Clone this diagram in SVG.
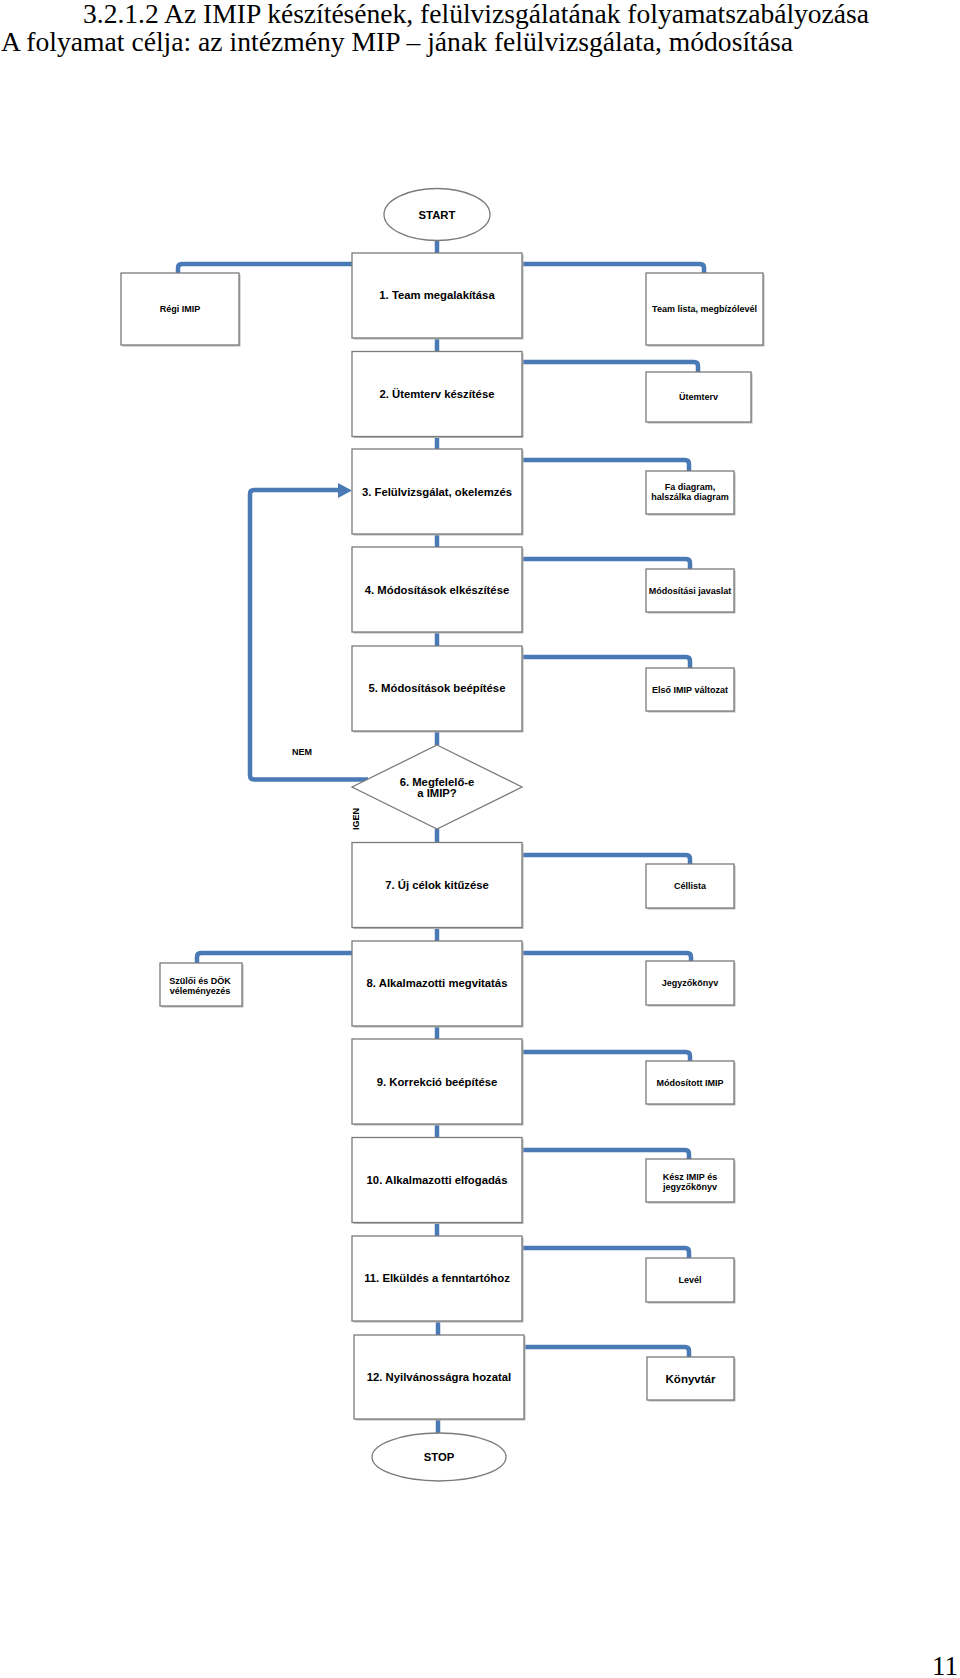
<svg xmlns="http://www.w3.org/2000/svg" width="960" height="1678" viewBox="0 0 960 1678">
<style>
.bg{fill:#ffffff}
.title{font-family:"Liberation Serif","Times New Roman",serif;font-size:27px;fill:#000}
.box{fill:#ffffff;stroke:#7b7b7b;stroke-width:1.3}
.shadow{fill:#b8b8b8}
.lbl{font-family:"Liberation Sans",Arial,sans-serif;font-weight:bold;font-size:11.3px;fill:#000;text-anchor:middle}
.sm{font-family:"Liberation Sans",Arial,sans-serif;font-weight:bold;font-size:9px;fill:#000;text-anchor:middle}
.conn{fill:none;stroke:#4a7ab5;stroke-width:4.5;stroke-linejoin:round}
.arrow{fill:#4a7ab5}
</style>
<rect class="bg" x="0" y="0" width="960" height="1678"/>
<g id="title">
<text class="title" x="83" y="23" textLength="786" lengthAdjust="spacingAndGlyphs">3.2.1.2 Az IMIP készítésének, felülvizsgálatának folyamatszabályozása</text>
<text class="title" x="1" y="51" textLength="792" lengthAdjust="spacingAndGlyphs">A folyamat célja: az intézmény MIP – jának felülvizsgálata, módosítása</text>
</g>
<g id="connectors">
<path class="conn" d="M437 240 V253"/>
<path class="conn" d="M352 264 H182 Q178 264 178 268 V273"/>
<path class="conn" d="M522 264 H700 Q704 264 704 268 V273"/>
<path class="conn" d="M437 338 V351.5"/>
<path class="conn" d="M522 362 H694 Q698 362 698 366 V372"/>
<path class="conn" d="M437 436.5 V449"/>
<path class="conn" d="M522 460 H685 Q689 460 689 464 V471"/>
<path class="conn" d="M437 534 V547"/>
<path class="conn" d="M522 559 H686 Q690 559 690 563 V569"/>
<path class="conn" d="M437 632 V646"/>
<path class="conn" d="M522 657 H686 Q690 657 690 661 V668"/>
<path class="conn" d="M437 731 V745"/>
<path class="conn" d="M368 779.5 H254 Q250 779.5 250 775.5 V494 Q250 490 254 490 H341"/>
<polygon class="arrow" points="338,483 352,490.5 338,498"/>
<path class="conn" d="M437 829 V842.5"/>
<path class="conn" d="M522 855 H686 Q690 855 690 859 V864"/>
<path class="conn" d="M437 927.5 V941"/>
<path class="conn" d="M352 953 H201 Q197 953 197 957 V963"/>
<path class="conn" d="M522 953 H687 Q691 953 691 957 V961"/>
<path class="conn" d="M437 1026 V1039"/>
<path class="conn" d="M522 1052 H686 Q690 1052 690 1056 V1061"/>
<path class="conn" d="M437 1124 V1137.5"/>
<path class="conn" d="M522 1150 H685 Q689 1150 689 1154 V1159"/>
<path class="conn" d="M437 1222 V1236"/>
<path class="conn" d="M522 1248 H685 Q689 1248 689 1252 V1258"/>
<path class="conn" d="M438 1321 V1335"/>
<path class="conn" d="M525 1347 H685 Q689 1347 689 1351 V1357"/>
<path class="conn" d="M438 1419 V1433"/>
</g>
<g id="start">
<ellipse class="box" cx="437" cy="214.5" rx="53" ry="26"/>
<text class="lbl" x="437" y="219">START</text>
</g>
<g id="n1">
<rect class="shadow" x="353.5" y="254.5" width="170" height="85"/>
<rect class="box" x="352" y="253" width="170" height="85"/>
<text class="lbl" x="437" y="299">1. Team megalakítása</text>
</g>
<g id="regi">
<rect class="shadow" x="122.5" y="274.5" width="118" height="72"/>
<rect class="box" x="121" y="273" width="118" height="72"/>
<text class="sm" x="180" y="312">Régi IMIP</text>
</g>
<g id="team">
<rect class="shadow" x="647.5" y="274.5" width="117" height="72"/>
<rect class="box" x="646" y="273" width="117" height="72"/>
<text class="sm" x="704.5" y="312">Team lista, megbízólevél</text>
</g>
<g id="n2">
<rect class="shadow" x="353.5" y="353" width="170" height="85"/>
<rect class="box" x="352" y="351.5" width="170" height="85"/>
<text class="lbl" x="437" y="397.5">2. Ütemterv készítése</text>
</g>
<g id="utemterv">
<rect class="shadow" x="647.5" y="373.5" width="105" height="50"/>
<rect class="box" x="646" y="372" width="105" height="50"/>
<text class="sm" x="698.5" y="400">Ütemterv</text>
</g>
<g id="n3">
<rect class="shadow" x="353.5" y="450.5" width="170" height="85"/>
<rect class="box" x="352" y="449" width="170" height="85"/>
<text class="lbl" x="437" y="495.5">3. Felülvizsgálat, okelemzés</text>
</g>
<g id="fa">
<rect class="shadow" x="647.5" y="472.5" width="88" height="43"/>
<rect class="box" x="646" y="471" width="88" height="43"/>
<text class="sm" x="690" y="490">Fa diagram,</text>
<text class="sm" x="690" y="500">halszálka diagram</text>
</g>
<g id="n4">
<rect class="shadow" x="353.5" y="548.5" width="170" height="85"/>
<rect class="box" x="352" y="547" width="170" height="85"/>
<text class="lbl" x="437" y="594">4. Módosítások elkészítése</text>
</g>
<g id="modjav">
<rect class="shadow" x="647.5" y="570.5" width="88" height="43"/>
<rect class="box" x="646" y="569" width="88" height="43"/>
<text class="sm" x="690" y="594">Módosítási javaslat</text>
</g>
<g id="n5">
<rect class="shadow" x="353.5" y="647.5" width="170" height="85"/>
<rect class="box" x="352" y="646" width="170" height="85"/>
<text class="lbl" x="437" y="692">5. Módosítások beépítése</text>
</g>
<g id="elso">
<rect class="shadow" x="647.5" y="669.5" width="88" height="43"/>
<rect class="box" x="646" y="668" width="88" height="43"/>
<text class="sm" x="690" y="692.5">Első IMIP változat</text>
</g>
<g id="n6">
<polygon class="box" points="437,745 522,787 437,829 352,787"/>
<text class="lbl" x="437" y="785.5">6. Megfelelő-e</text>
<text class="lbl" x="437" y="797">a IMIP?</text>
</g>
<g id="labels">
<text class="sm" x="302" y="755">NEM</text>
<text class="sm" transform="translate(358.5 819) rotate(-90)" x="0" y="0">IGEN</text>
</g>
<g id="n7">
<rect class="shadow" x="353.5" y="844" width="170" height="85"/>
<rect class="box" x="352" y="842.5" width="170" height="85"/>
<text class="lbl" x="437" y="888.5">7. Új célok kitűzése</text>
</g>
<g id="cellista">
<rect class="shadow" x="647.5" y="865.5" width="88" height="44"/>
<rect class="box" x="646" y="864" width="88" height="44"/>
<text class="sm" x="690" y="889">Céllista</text>
</g>
<g id="n8">
<rect class="shadow" x="353.5" y="942.5" width="170" height="85"/>
<rect class="box" x="352" y="941" width="170" height="85"/>
<text class="lbl" x="437" y="987">8. Alkalmazotti megvitatás</text>
</g>
<g id="szuloi">
<rect class="shadow" x="161.5" y="964.5" width="82" height="43"/>
<rect class="box" x="160" y="963" width="82" height="43"/>
<text class="sm" x="200" y="984">Szülői és DÖK</text>
<text class="sm" x="200" y="993.5">véleményezés</text>
</g>
<g id="jegyzo">
<rect class="shadow" x="647.5" y="962.5" width="88" height="44"/>
<rect class="box" x="646" y="961" width="88" height="44"/>
<text class="sm" x="690" y="986">Jegyzőkönyv</text>
</g>
<g id="n9">
<rect class="shadow" x="353.5" y="1040.5" width="170" height="85"/>
<rect class="box" x="352" y="1039" width="170" height="85"/>
<text class="lbl" x="437" y="1086">9. Korrekció beépítése</text>
</g>
<g id="modimip">
<rect class="shadow" x="647.5" y="1062.5" width="88" height="43"/>
<rect class="box" x="646" y="1061" width="88" height="43"/>
<text class="sm" x="690" y="1085.5">Módosított IMIP</text>
</g>
<g id="n10">
<rect class="shadow" x="353.5" y="1139" width="170" height="85"/>
<rect class="box" x="352" y="1137.5" width="170" height="85"/>
<text class="lbl" x="437" y="1184">10. Alkalmazotti elfogadás</text>
</g>
<g id="kesz">
<rect class="shadow" x="647.5" y="1160.5" width="88" height="43"/>
<rect class="box" x="646" y="1159" width="88" height="43"/>
<text class="sm" x="690" y="1180">Kész IMIP és</text>
<text class="sm" x="690" y="1190">jegyzőkönyv</text>
</g>
<g id="n11">
<rect class="shadow" x="353.5" y="1237.5" width="170" height="85"/>
<rect class="box" x="352" y="1236" width="170" height="85"/>
<text class="lbl" x="437" y="1282">11. Elküldés a fenntartóhoz</text>
</g>
<g id="level">
<rect class="shadow" x="647.5" y="1259.5" width="88" height="44"/>
<rect class="box" x="646" y="1258" width="88" height="44"/>
<text class="sm" x="690" y="1283">Levél</text>
</g>
<g id="n12">
<rect class="shadow" x="355.5" y="1336.5" width="170" height="84"/>
<rect class="box" x="354" y="1335" width="170" height="84"/>
<text class="lbl" x="439" y="1381">12. Nyilvánosságra hozatal</text>
</g>
<g id="konyvtar">
<rect class="shadow" x="648.5" y="1358.5" width="87" height="43"/>
<rect class="box" x="647" y="1357" width="87" height="43"/>
<text class="lbl" x="690.5" y="1382.5" style="font-size:11.5px">Könyvtár</text>
</g>
<g id="stop">
<ellipse class="box" cx="439" cy="1457" rx="67" ry="24"/>
<text class="lbl" x="439" y="1461">STOP</text>
</g>
<text class="title" x="958" y="1675" text-anchor="end">11</text>
</svg>
